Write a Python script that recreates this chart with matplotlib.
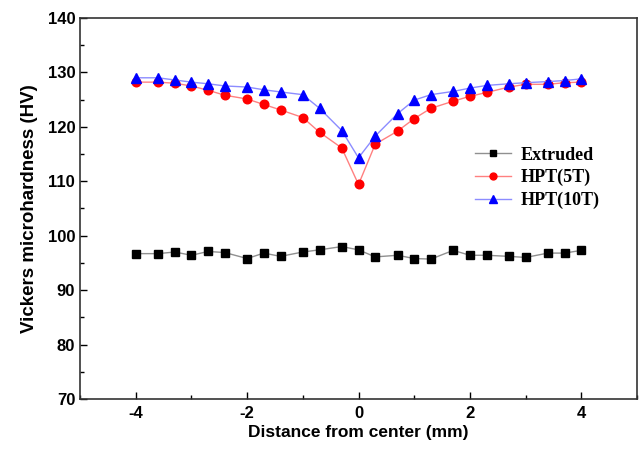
import matplotlib
matplotlib.use("Agg")
import matplotlib.pyplot as plt
from matplotlib.ticker import MultipleLocator

plt.rcParams['axes.unicode_minus'] = False

# distance from center (mm)
x_pos = [-4.0, -3.6, -3.3, -3.0, -2.7, -2.4, -2.0, -1.7, -1.4, -1.0, -0.7, -0.3, 0.0,
         0.3, 0.7, 1.0, 1.3, 1.7, 2.0, 2.3, 2.7, 3.0, 3.4, 3.7, 4.0]

extruded = [96.7, 96.7, 97.0, 96.4, 97.1, 96.9, 95.8, 96.8, 96.2, 97.0, 97.4, 98.0, 97.4,
            96.1, 96.4, 95.8, 95.7, 97.3, 96.4, 96.4, 96.2, 96.0, 96.8, 96.8, 97.3]
hpt_5t = [128.2, 128.2, 128.0, 127.5, 126.7, 125.8, 125.1, 124.1, 123.1, 121.7, 119.0, 116.1, 109.4,
          116.8, 119.2, 121.5, 123.4, 124.7, 125.6, 126.3, 127.3, 127.8, 127.8, 128.1, 128.2]
hpt_10t = [129.0, 129.0, 128.6, 128.2, 127.9, 127.5, 127.3, 126.8, 126.4, 125.9, 123.4, 119.3, 114.3,
           118.3, 122.4, 124.9, 125.9, 126.5, 127.1, 127.6, 127.9, 128.1, 128.3, 128.5, 128.8]

labels = ["Extruded", "HPT(5T)", "HPT(10T)"]

fig = plt.figure(figsize=(6.41, 4.51), dpi=100)
ax = fig.add_axes([0.1248, 0.1153, 0.869, 0.845])

ax.plot(x_pos, extruded, color="#909090", lw=1.0, marker="s", ms=5.2,
        mfc="black", mec="black", label=labels[0])
ax.plot(x_pos, hpt_5t, color="#ff8080", lw=1.0, marker="o", ms=6.2,
        mfc="red", mec="red", label=labels[1])
ax.plot(x_pos, hpt_10t, color="#8c8cff", lw=1.0, marker="^", ms=7,
        mfc="blue", mec="blue", label=labels[2])

ax.set_xlim(-5, 5)
ax.set_ylim(70, 140)
ax.xaxis.set_major_locator(MultipleLocator(2))
ax.xaxis.set_minor_locator(MultipleLocator(1))
ax.yaxis.set_major_locator(MultipleLocator(10))
ax.yaxis.set_minor_locator(MultipleLocator(5))
ax.tick_params(which="both", direction="in", top=False, right=False, width=1.0)
ax.tick_params(which="major", length=5)
ax.tick_params(which="minor", length=3)
ax.tick_params(axis="x", which="major", pad=5)
for lbl in ax.get_xticklabels() + ax.get_yticklabels():
    lbl.set_fontfamily("Liberation Sans")
    lbl.set_fontweight("bold")
    lbl.set_fontsize(12)
for s in ax.spines.values():
    s.set_linewidth(1.2)
    s.set_color("#333333")

ax.set_xlabel("Distance from center (mm)", fontsize=12.5, fontweight="bold",
              family="Liberation Sans", labelpad=3)
ax.set_ylabel("Vickers microhardness (HV)", fontsize=13.5, fontweight="bold",
              family="Liberation Sans", labelpad=7)

leg = ax.legend(loc="upper left", bbox_to_anchor=(0.68, 0.705), frameon=False,
                prop={"family": "Liberation Serif", "weight": "bold", "size": 13},
                handlelength=2.0, handletextpad=0.5, labelspacing=0.3, markerscale=0.8)

fig.savefig("out.png", dpi=100)
